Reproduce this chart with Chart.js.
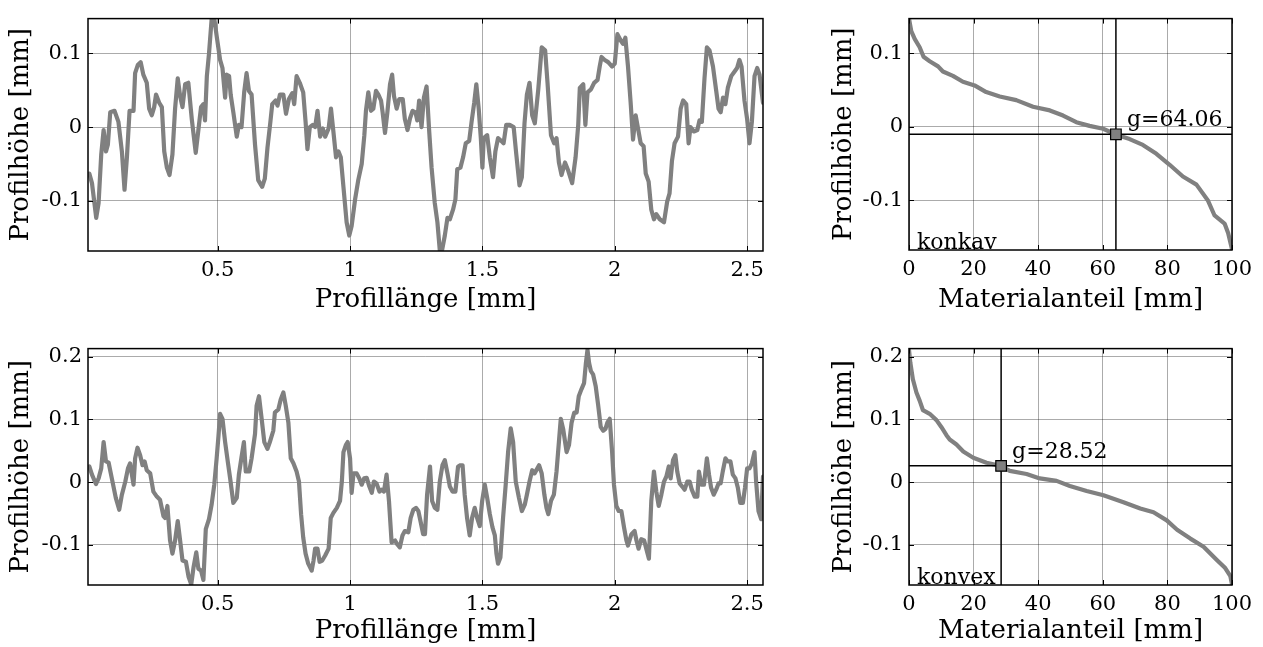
<!DOCTYPE html>
<html>
<head>
<meta charset="utf-8">
<script src="https://cdn.jsdelivr.net/npm/chart.js@4.4.1/dist/chart.umd.min.js"></script>
<style>
  body { margin: 0; background: #fff; }
  #page { position: relative; width: 1263px; height: 647px; overflow: hidden; }
  canvas { position: absolute; }
</style>
</head>
<body>
<div id="page">
  <canvas id="profilKonkav" width="790" height="325" style="left:0;top:0"></canvas>
  <canvas id="anteilKonkav" width="463" height="325" style="left:800px;top:0"></canvas>
  <canvas id="profilKonvex" width="790" height="317" style="left:0;top:330px"></canvas>
  <canvas id="anteilKonvex" width="463" height="317" style="left:800px;top:330px"></canvas>
</div>
<script>
// Profilschnitte [mm]
const konkavX = [0.015,0.025,0.041,0.05,0.06,0.069,0.078,0.085,0.094,0.11,0.125,0.138,0.148,0.157,0.167,0.182,0.188,0.198,0.209,0.219,0.232,0.241,0.251,0.26,0.267,0.279,0.289,0.298,0.308,0.318,0.329,0.339,0.349,0.358,0.367,0.377,0.389,0.402,0.417,0.427,0.437,0.446,0.452,0.459,0.467,0.477,0.487,0.497,0.509,0.518,0.528,0.534,0.543,0.549,0.559,0.572,0.58,0.59,0.6,0.609,0.618,0.628,0.641,0.653,0.668,0.678,0.688,0.699,0.706,0.719,0.726,0.735,0.748,0.758,0.769,0.782,0.789,0.798,0.81,0.823,0.832,0.839,0.848,0.859,0.868,0.877,0.887,0.897,0.906,0.919,0.928,0.937,0.947,0.956,0.965,0.975,0.987,0.997,1.006,1.019,1.031,1.044,1.054,1.06,1.069,1.079,1.088,1.098,1.107,1.117,1.123,1.132,1.141,1.151,1.159,1.166,1.176,1.186,1.199,1.207,1.217,1.226,1.236,1.247,1.254,1.261,1.27,1.279,1.289,1.299,1.308,1.32,1.33,1.339,1.348,1.358,1.368,1.377,1.389,1.398,1.405,1.417,1.427,1.437,1.45,1.459,1.469,1.477,1.486,1.494,1.5,1.505,1.518,1.528,1.54,1.549,1.559,1.572,1.58,1.59,1.603,1.618,1.628,1.64,1.649,1.659,1.668,1.678,1.688,1.698,1.711,1.724,1.737,1.746,1.759,1.771,1.78,1.789,1.799,1.812,1.824,1.839,1.852,1.862,1.868,1.881,1.889,1.897,1.91,1.922,1.935,1.943,1.95,1.962,1.975,1.99,2.0,2.01,2.023,2.031,2.04,2.05,2.06,2.069,2.079,2.088,2.098,2.109,2.117,2.128,2.138,2.148,2.157,2.17,2.186,2.198,2.207,2.216,2.226,2.239,2.249,2.258,2.27,2.279,2.286,2.299,2.312,2.32,2.329,2.339,2.348,2.358,2.371,2.384,2.392,2.4,2.409,2.418,2.427,2.44,2.452,2.462,2.471,2.479,2.49,2.5,2.509,2.518,2.528,2.538,2.547,2.56];
const konkavY = [-0.063,-0.076,-0.123,-0.103,-0.037,-0.004,-0.033,-0.024,0.020,0.022,0.007,-0.033,-0.085,-0.041,0.022,0.022,0.073,0.084,0.088,0.071,0.060,0.025,0.016,0.027,0.044,0.033,0.027,-0.033,-0.055,-0.065,-0.037,0.025,0.066,0.042,0.027,0.058,0.060,0.011,-0.035,-0.004,0.027,0.031,0.009,0.069,0.099,0.146,0.147,0.121,0.091,0.080,0.040,0.071,0.069,0.044,0.020,-0.013,0.003,0.000,0.047,0.073,0.049,0.044,-0.024,-0.072,-0.081,-0.070,-0.028,0.007,0.031,0.036,0.029,0.044,0.044,0.018,0.038,0.046,0.031,0.069,0.060,0.047,0.007,-0.030,0.000,0.003,0.000,0.022,-0.013,-0.002,-0.013,-0.002,0.025,-0.006,-0.041,-0.033,-0.041,-0.081,-0.129,-0.147,-0.134,-0.098,-0.072,-0.050,-0.011,0.022,0.047,0.022,0.025,0.049,0.044,0.036,0.020,-0.008,0.020,0.058,0.071,0.042,0.025,0.038,0.038,0.011,-0.004,0.011,0.022,0.020,0.009,0.036,0.000,0.040,0.055,-0.006,-0.055,-0.103,-0.129,-0.167,-0.166,-0.147,-0.123,-0.125,-0.112,-0.098,-0.057,-0.055,-0.041,-0.022,-0.019,0.007,0.033,0.058,0.025,-0.015,-0.055,-0.015,-0.011,-0.041,-0.068,-0.033,-0.015,-0.019,-0.022,0.003,0.003,0.000,-0.037,-0.079,-0.068,0.005,0.044,0.060,0.016,0.005,0.051,0.108,0.104,0.060,-0.011,-0.022,-0.015,-0.048,-0.065,-0.048,-0.059,-0.076,-0.041,0.003,0.053,0.058,0.003,0.047,0.051,0.060,0.064,0.082,0.095,0.091,0.088,0.082,0.086,0.126,0.117,0.113,0.121,0.082,0.033,-0.017,0.016,-0.002,-0.022,-0.026,-0.063,-0.074,-0.112,-0.125,-0.118,-0.125,-0.129,-0.101,-0.090,-0.046,-0.022,-0.013,0.025,0.036,0.031,-0.022,0.000,-0.006,-0.004,0.009,0.007,0.066,0.108,0.104,0.082,0.047,0.025,0.020,0.040,0.031,0.053,0.069,0.075,0.080,0.091,0.082,0.036,0.011,-0.022,0.007,0.069,0.080,0.071,0.033];

const konvexX = [0.015,0.025,0.04,0.05,0.06,0.069,0.078,0.088,0.1,0.115,0.128,0.138,0.151,0.161,0.169,0.182,0.188,0.197,0.207,0.216,0.224,0.232,0.245,0.257,0.27,0.282,0.295,0.301,0.31,0.32,0.329,0.339,0.349,0.358,0.367,0.38,0.39,0.4,0.409,0.419,0.427,0.437,0.446,0.455,0.467,0.477,0.487,0.496,0.503,0.509,0.518,0.528,0.538,0.547,0.559,0.572,0.58,0.59,0.599,0.606,0.619,0.628,0.641,0.647,0.656,0.666,0.676,0.688,0.697,0.71,0.716,0.729,0.738,0.748,0.757,0.767,0.776,0.786,0.798,0.807,0.815,0.823,0.832,0.842,0.855,0.862,0.868,0.877,0.885,0.895,0.906,0.919,0.927,0.937,0.95,0.962,0.969,0.975,0.984,0.991,1.0,1.006,1.013,1.025,1.035,1.044,1.053,1.063,1.073,1.082,1.09,1.1,1.111,1.119,1.128,1.138,1.147,1.157,1.17,1.178,1.188,1.198,1.207,1.22,1.229,1.239,1.249,1.258,1.266,1.276,1.283,1.291,1.302,1.31,1.32,1.33,1.339,1.349,1.358,1.368,1.377,1.387,1.398,1.408,1.417,1.425,1.433,1.442,1.452,1.461,1.471,1.48,1.49,1.499,1.509,1.518,1.528,1.538,1.547,1.553,1.559,1.568,1.578,1.588,1.597,1.607,1.616,1.626,1.638,1.649,1.66,1.668,1.678,1.688,1.697,1.714,1.724,1.734,1.742,1.749,1.759,1.77,1.78,1.789,1.796,1.805,1.818,1.827,1.837,1.847,1.856,1.864,1.874,1.884,1.891,1.897,1.903,1.91,1.918,1.928,1.937,1.947,1.956,1.965,1.972,1.981,1.99,1.997,2.006,2.015,2.025,2.035,2.044,2.05,2.063,2.075,2.082,2.09,2.1,2.111,2.119,2.129,2.138,2.148,2.157,2.166,2.176,2.186,2.195,2.204,2.211,2.22,2.229,2.236,2.245,2.255,2.264,2.274,2.283,2.291,2.302,2.312,2.318,2.327,2.337,2.348,2.356,2.364,2.374,2.383,2.392,2.4,2.408,2.418,2.427,2.437,2.446,2.456,2.465,2.474,2.484,2.492,2.5,2.509,2.518,2.528,2.534,2.543,2.553,2.56];
const konvexY = [0.025,0.012,-0.003,0.006,0.022,0.064,0.033,0.031,0.006,-0.025,-0.044,-0.020,0.001,0.022,0.030,-0.004,0.038,0.055,0.043,0.027,0.033,0.019,0.014,-0.015,-0.023,-0.028,-0.054,-0.057,-0.038,-0.093,-0.114,-0.093,-0.062,-0.093,-0.125,-0.127,-0.151,-0.163,-0.135,-0.112,-0.138,-0.141,-0.156,-0.075,-0.059,-0.036,-0.004,0.038,0.074,0.109,0.101,0.064,0.033,0.006,-0.033,-0.025,0.012,0.040,0.064,0.017,0.017,0.038,0.077,0.122,0.137,0.101,0.064,0.053,0.064,0.082,0.111,0.116,0.132,0.143,0.122,0.095,0.038,0.030,0.017,0.001,-0.051,-0.088,-0.114,-0.130,-0.141,-0.125,-0.106,-0.106,-0.127,-0.125,-0.117,-0.106,-0.057,-0.049,-0.041,-0.030,0.001,0.048,0.059,0.064,0.038,-0.017,0.014,0.014,0.006,-0.004,0.006,0.007,-0.007,-0.017,0.001,-0.002,-0.015,-0.012,-0.015,0.012,-0.030,-0.096,-0.093,-0.099,-0.104,-0.085,-0.078,-0.080,-0.057,-0.044,-0.041,-0.046,-0.062,-0.083,-0.083,-0.020,0.025,-0.030,-0.041,-0.044,0.001,0.027,0.035,0.014,-0.007,-0.015,-0.015,0.025,0.027,0.027,-0.020,-0.057,-0.085,-0.057,-0.041,-0.057,-0.070,-0.030,-0.004,-0.025,-0.051,-0.072,-0.085,-0.114,-0.130,-0.120,-0.057,-0.004,0.048,0.086,0.064,0.001,-0.025,-0.046,-0.036,-0.020,0.001,0.019,0.014,0.027,0.014,-0.020,-0.041,-0.051,-0.030,-0.020,0.017,0.064,0.101,0.085,0.048,0.059,0.095,0.111,0.111,0.137,0.148,0.158,0.190,0.211,0.190,0.177,0.172,0.153,0.124,0.088,0.082,0.085,0.095,0.101,0.048,-0.004,-0.038,-0.046,-0.046,-0.072,-0.093,-0.101,-0.083,-0.078,-0.093,-0.106,-0.091,-0.093,-0.106,-0.122,-0.030,0.017,-0.015,-0.038,-0.020,0.001,0.009,0.025,0.006,0.035,0.043,0.017,-0.002,-0.007,-0.012,0.001,0.001,-0.012,-0.023,-0.023,0.017,-0.004,-0.004,0.038,0.012,-0.009,-0.020,-0.012,-0.002,-0.002,0.017,0.038,0.033,0.033,0.012,0.006,-0.009,-0.033,-0.033,-0.009,0.022,0.022,0.030,0.048,0.001,-0.046,-0.059,0.009];

// Materialanteilkurven [%] / [mm]
const anteilKonkavX = [0,0.7,1.8,3.3,4.5,6.4,9.0,10.5,13.6,16.7,20.3,23.9,28.1,33.2,38.4,43.6,47.7,51.8,55.9,60.1,64.2,68.3,72.4,76.6,80.7,84.8,89.0,92.6,94.6,97.7,98.8,100];
const anteilKonkavY = [0.147,0.130,0.119,0.108,0.095,0.089,0.082,0.075,0.069,0.061,0.056,0.047,0.041,0.036,0.027,0.022,0.015,0.006,0.001,-0.003,-0.011,-0.017,-0.025,-0.037,-0.052,-0.068,-0.079,-0.101,-0.121,-0.132,-0.145,-0.167];
const anteilKonvexX = [0,0.4,1.2,2.3,3.3,4.3,6.4,8.5,10.0,11.6,12.6,14.7,16.8,19.9,24.0,28.3,31.2,36.4,40.5,45.7,49.8,55.0,60.2,66.4,71.6,75.7,79.8,83.0,87.1,91.2,95.3,97.9,99.5,100];
const anteilKonvexY = [0.211,0.191,0.164,0.143,0.130,0.115,0.109,0.099,0.088,0.075,0.068,0.060,0.049,0.039,0.031,0.026,0.018,0.013,0.006,0.002,-0.006,-0.014,-0.021,-0.032,-0.042,-0.048,-0.061,-0.076,-0.090,-0.103,-0.124,-0.137,-0.150,-0.163];

// Grenzwerte g
const gKonkav = 64.06, gKonkavHoehe = -0.0105;
const gKonvex = 28.52, gKonvexHoehe = 0.026;

// Achsen
const laengeTicks = [0.5, 1, 1.5, 2, 2.5];
const anteilTicks = [0, 20, 40, 60, 80, 100];
const hoeheTicksKonkav = [-0.1, 0, 0.1];
const hoeheTicksKonvex = [-0.1, 0, 0.1, 0.2];
const laengeBereich = [0.01, 2.56];
const hoeheBereichKonkav = [-0.168, 0.147];
const hoeheBereichKonvex = [-0.164, 0.213];

const GRAU = '#808080';
const SCHRIFT = 'DejaVu Serif';

Chart.defaults.font.family = SCHRIFT;
Chart.defaults.color = '#000';

const toPoints = (xs, ys) => xs.map((x, i) => ({ x, y: ys[i] }));

// Rahmen, Ticks nach innen, Beschriftungen im Diagramm
const rahmen = {
  id: 'rahmen',
  afterDatasetsDraw(chart, args, opts) {
    const { ctx, chartArea: a, scales: { x, y } } = chart;
    ctx.save();
    ctx.strokeStyle = '#000';
    ctx.lineWidth = 1;
    const len = 5;
    ctx.beginPath();
    x.ticks.forEach(t => {
      const px = Math.round(x.getPixelForValue(t.value)) + 0.5;
      ctx.moveTo(px, a.bottom); ctx.lineTo(px, a.bottom - len);
      ctx.moveTo(px, a.top); ctx.lineTo(px, a.top + len);
    });
    y.ticks.forEach(t => {
      const py = Math.round(y.getPixelForValue(t.value)) + 0.5;
      ctx.moveTo(a.left, py); ctx.lineTo(a.left + len, py);
      ctx.moveTo(a.right, py); ctx.lineTo(a.right - len, py);
    });
    ctx.stroke();
    ctx.lineWidth = 1.5;
    ctx.strokeRect(a.left, a.top, a.right - a.left, a.bottom - a.top);

    ctx.fillStyle = '#000';
    ctx.font = '22px "' + SCHRIFT + '"';
    ctx.textBaseline = 'alphabetic';
    if (opts.art) {
      ctx.fillText(opts.art, a.left + 8, a.bottom - 1);
    }
    if (opts.g !== undefined) {
      const gx = x.getPixelForValue(opts.g);
      const gy = y.getPixelForValue(opts.gy);
      ctx.fillText('g=' + opts.g.toFixed(2), gx + 11, gy - 8);
    }
    ctx.restore();
  }
};

function achse(min, max, ticks, titel, titelPad, tickPad) {
  return {
    type: 'linear',
    min, max,
    afterBuildTicks: s => { s.ticks = ticks.map(v => ({ value: v })); },
    ticks: { font: { size: 21 }, padding: tickPad, maxRotation: 0, callback: v => String(v) },
    grid: { color: 'rgba(0,0,0,0.33)', lineWidth: 1, drawTicks: false },
    border: { display: false },
    title: { display: true, text: titel, font: { size: 26 }, padding: titelPad }
  };
}

function diagramm(id, box, datasets, xAchse, yAchse, extra) {
  const el = document.getElementById(id);
  const W = el.width, H = el.height;
  xAchse.afterFit = s => { s.height = H - box.bottom; };
  yAchse.afterFit = s => { s.width = box.left; };
  return new Chart(el, {
    type: 'scatter',
    data: { datasets },
    options: {
      responsive: false,
      animation: false,
      devicePixelRatio: 1,
      layout: { autoPadding: false, padding: { left: 0, top: box.top, right: W - box.right, bottom: 0 } },
      plugins: { legend: { display: false }, tooltip: { enabled: false }, rahmen: extra },
      scales: { x: xAchse, y: yAchse }
    },
    plugins: [rahmen]
  });
}

function profilLinie(xs, ys) {
  return { data: toPoints(xs, ys), showLine: true, borderColor: GRAU, borderWidth: 4.2,
           pointRadius: 0, borderJoinStyle: 'round', borderCapStyle: 'round' };
}

function anteilDatasets(xs, ys, g, gy, yMin, yMax) {
  return [
    { data: [{ x: g, y: gy }], pointStyle: 'rect', pointRadius: 7.5,
      backgroundColor: GRAU, borderColor: '#000', borderWidth: 1.2 },
    { data: [{ x: g, y: yMin }, { x: g, y: yMax }], showLine: true, borderColor: '#000',
      borderWidth: 1.5, pointRadius: 0 },
    { data: [{ x: 0, y: gy }, { x: 100, y: gy }], showLine: true, borderColor: '#000',
      borderWidth: 1.5, pointRadius: 0 },
    profilLinie(xs, ys)
  ];
}

diagramm('profilKonkav', { left: 88, top: 12, right: 763, bottom: 251 },
  [profilLinie(konkavX, konkavY)],
  achse(laengeBereich[0], laengeBereich[1], laengeTicks, 'Profillänge [mm]', { top: 0, bottom: 9 }, 7),
  achse(hoeheBereichKonkav[0], hoeheBereichKonkav[1], hoeheTicksKonkav, 'Profilhöhe [mm]', { top: 6, bottom: 0 }, 6),
  {});

diagramm('anteilKonkav', { left: 109, top: 13, right: 432, bottom: 250 },
  anteilDatasets(anteilKonkavX, anteilKonkavY, gKonkav, gKonkavHoehe, hoeheBereichKonkav[0], hoeheBereichKonkav[1]),
  achse(0, 100, anteilTicks, 'Materialanteil [mm]', { top: 0, bottom: 9 }, 7),
  achse(hoeheBereichKonkav[0], hoeheBereichKonkav[1], hoeheTicksKonkav, 'Profilhöhe [mm]', { top: 29, bottom: 0 }, 6),
  { art: 'konkav', g: gKonkav, gy: gKonkavHoehe });

diagramm('profilKonvex', { left: 88, top: 15, right: 763, bottom: 255 },
  [profilLinie(konvexX, konvexY)],
  achse(laengeBereich[0], laengeBereich[1], laengeTicks, 'Profillänge [mm]', { top: 0, bottom: 0 }, 7),
  achse(hoeheBereichKonvex[0], hoeheBereichKonvex[1], hoeheTicksKonvex, 'Profilhöhe [mm]', { top: 6, bottom: 0 }, 6),
  {});

diagramm('anteilKonvex', { left: 109, top: 15, right: 432, bottom: 255 },
  anteilDatasets(anteilKonvexX, anteilKonvexY, gKonvex, gKonvexHoehe, hoeheBereichKonvex[0], hoeheBereichKonvex[1]),
  achse(0, 100, anteilTicks, 'Materialanteil [mm]', { top: 0, bottom: 0 }, 7),
  achse(hoeheBereichKonvex[0], hoeheBereichKonvex[1], hoeheTicksKonvex, 'Profilhöhe [mm]', { top: 29, bottom: 0 }, 6),
  { art: 'konvex', g: gKonvex, gy: gKonvexHoehe });
</script>
</body>
</html>
